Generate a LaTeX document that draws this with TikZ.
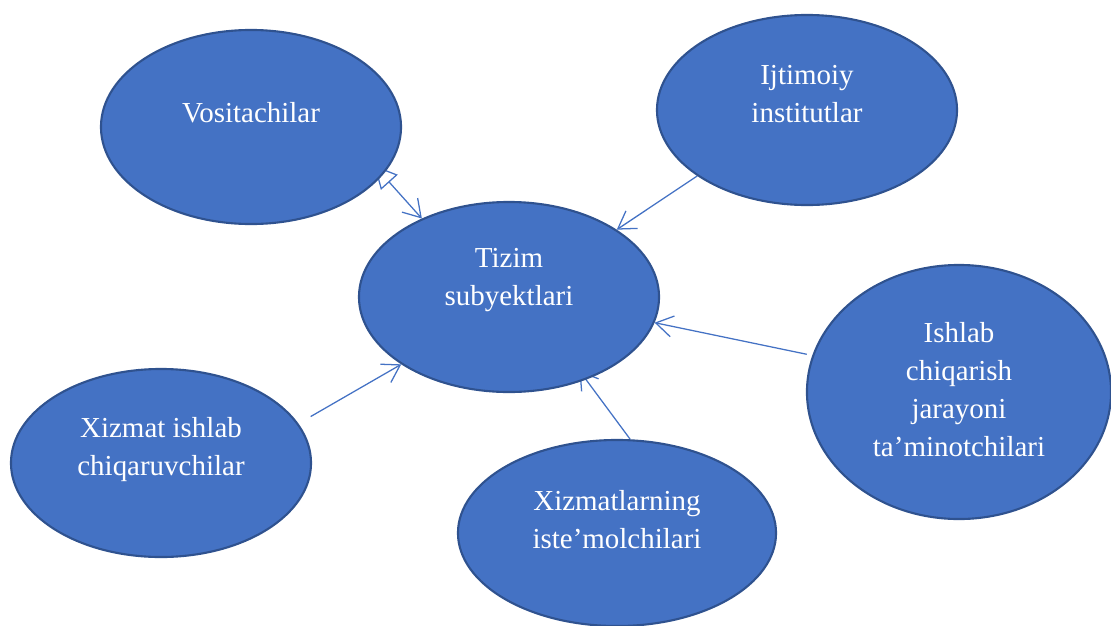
\documentclass[tikz,border=0pt]{standalone}
\usepackage{fontspec}
\setmainfont{Liberation Serif}
\usetikzlibrary{shapes.geometric,arrows.meta,backgrounds}
\definecolor{bubblefill}{HTML}{4472C4}
\definecolor{bubbleline}{HTML}{2F528F}
\definecolor{linkblue}{HTML}{4472C4}
\tikzset{
  bubble/.style={ellipse, draw=bubbleline, fill=bubblefill, line width=1.5pt, inner sep=0pt},
  bubbletext/.style={text=white, align=center, font=\fontsize{20.6}{27}\selectfont},
  link/.style={draw=linkblue, line width=0.9pt, -{Straight Barb[length=12pt,width=15pt]}}
}
\begin{document}
\begin{tikzpicture}[x=0.025cm, y=-0.025cm]
\useasboundingbox (0,0) rectangle (1111,625);
    \node[bubble, minimum width=7.5cm, minimum height=4.85cm, label={[bubbletext, yshift=0.37cm]center:Vositachilar}] (vosita) at (251,127) {};
    \node[bubble, minimum width=7.5cm, minimum height=4.75cm, label={[bubbletext, yshift=0.4cm]center:Ijtimoiy\\institutlar}] (ijtimoiy) at (807,110) {};
    \node[bubble, minimum width=7.5cm, minimum height=4.75cm, label={[bubbletext, yshift=0.42cm]center:Tizim\\subyektlari}] (tizim) at (509,297) {};
    \node[bubble, minimum width=7.6cm, minimum height=6.35cm, label={[bubbletext, yshift=0.05cm]center:Ishlab\\chiqarish\\jarayoni\\ta’minotchilari}] (ishlab) at (959,392) {};
    \node[bubble, minimum width=7.5cm, minimum height=4.7cm, label={[bubbletext, yshift=0.33cm]center:Xizmat ishlab\\chiqaruvchilar}] (xizmat) at (161,463) {};
    \node[bubble, minimum width=7.95cm, minimum height=4.65cm, label={[bubbletext, yshift=0.33cm]center:Xizmatlarning\\iste’molchilari}] (istemol) at (617,533) {};
% connectors behind the bubbles
\begin{scope}[on background layer]
    \draw[link, {Triangle[open,length=16pt,width=16pt]}-{Straight Barb[length=12pt,width=15pt]}, shorten <=-9pt] (vosita.-20) -- (tizim.138.5);
    \draw[link] (ijtimoiy.211) -- (tizim.32);
    \draw[link, shorten <=4pt] (ishlab.166) -- (tizim.-10.5);
    \draw[link, shorten <=10pt] (xizmat.16.7) -- (tizim.212.4);
    \draw[link, shorten >=-8pt] (istemol.82) -- (tizim.-47);
\end{scope}
\end{tikzpicture}
\end{document}
